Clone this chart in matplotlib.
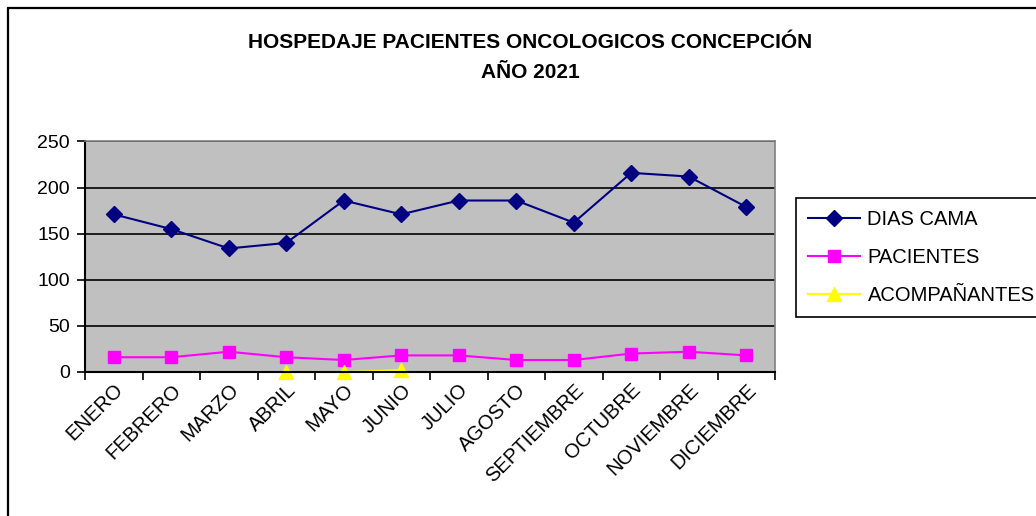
import numpy as np
import matplotlib
matplotlib.use("Agg")
from matplotlib import pyplot as plt
from matplotlib.patches import Rectangle
from matplotlib.transforms import ScaledTranslation

meses = ["ENERO", "FEBRERO", "MARZO", "ABRIL", "MAYO", "JUNIO", "JULIO",
         "AGOSTO", "SEPTIEMBRE", "OCTUBRE", "NOVIEMBRE", "DICIEMBRE"]
dias_cama = [171, 155, 134, 140, 186, 171, 186, 186, 162, 216, 212, 179]
pacientes = [16, 16, 22, 16, 13, 18, 18, 13, 13, 20, 22, 18]
acompanantes = [np.nan, np.nan, np.nan, 0, 0, 2, np.nan, np.nan, np.nan, np.nan, np.nan, np.nan]

plt.rcParams["font.family"] = ["Liberation Sans", "DejaVu Sans"]

fig = plt.figure(figsize=(10.36, 5.16), dpi=100)
fig.patch.set_facecolor("white")

# marco exterior del grafico
fig.patches.append(Rectangle((8 / 1036, -0.5), 2.0, 1.5 - 8 / 516, transform=fig.transFigure,
                             fill=False, edgecolor="black", linewidth=1.6))

ax = fig.add_axes([85 / 1036, 1 - 372 / 516, 690 / 1036, 230.5 / 516])
ax.set_facecolor("#C0C0C0")

x = np.arange(len(meses))
ax.plot(x, dias_cama, color="#000080", marker="D", markersize=8.5, linewidth=1.5, label="DIAS CAMA")
ax.plot(x, pacientes, color="#FF00FF", marker="s", markersize=8.5, linewidth=1.5, label="PACIENTES")
ax.plot(x, acompanantes, color="#FFFF00", marker="^", markersize=9.5, linewidth=1.5,
        label="ACOMPAÑANTES", clip_on=False)

ax.set_xlim(-0.5, len(meses) - 0.5)
ax.set_ylim(0, 250)
ax.set_yticks(np.arange(0, 251, 50))
ax.grid(axis="y", color="black", linewidth=1.2)
ax.set_axisbelow(True)

for s in ["top", "right"]:
    ax.spines[s].set_color("#808080")
    ax.spines[s].set_linewidth(1.2)
for s in ["left", "bottom"]:
    ax.spines[s].set_color("black")
    ax.spines[s].set_linewidth(1.5)

ax.set_xticks(np.arange(-0.5, len(meses), 1))
ax.set_xticklabels([])
ax.set_xticks(x, minor=True)
ax.set_xticklabels(meses, minor=True, rotation=45, ha="right", va="top",
                   rotation_mode="anchor", fontsize=14.5)
# desplazar las etiquetas de los meses un poco a la izquierda
desplazamiento = ScaledTranslation(-4 / 72, 0, fig.dpi_scale_trans)
for lbl in ax.get_xticklabels(minor=True):
    lbl.set_transform(lbl.get_transform() + desplazamiento)
ax.tick_params(axis="x", which="minor", length=0, pad=6)
ax.tick_params(axis="x", which="major", length=6, width=1.2, direction="out")
ax.tick_params(axis="y", length=6, width=1.2, direction="out", labelsize=14, pad=5)

fig.text(0.512, 1 - 42 / 516, "HOSPEDAJE PACIENTES ONCOLOGICOS CONCEPCIÓN",
         ha="center", va="center", fontsize=15, fontweight="bold")
fig.text(0.512, 1 - 72 / 516, "AÑO 2021",
         ha="center", va="center", fontsize=15, fontweight="bold")

leg = ax.legend(loc="upper left", bbox_to_anchor=(796 / 1036, 1 - 198 / 516),
                bbox_transform=fig.transFigure, fontsize=14.5, frameon=True,
                fancybox=False, edgecolor="black", framealpha=1, handlelength=2.6,
                labelspacing=0.95, borderpad=0.6, handletextpad=0.35, borderaxespad=0)
leg.get_frame().set_linewidth(1.2)

fig.savefig("out.png", dpi=100)
